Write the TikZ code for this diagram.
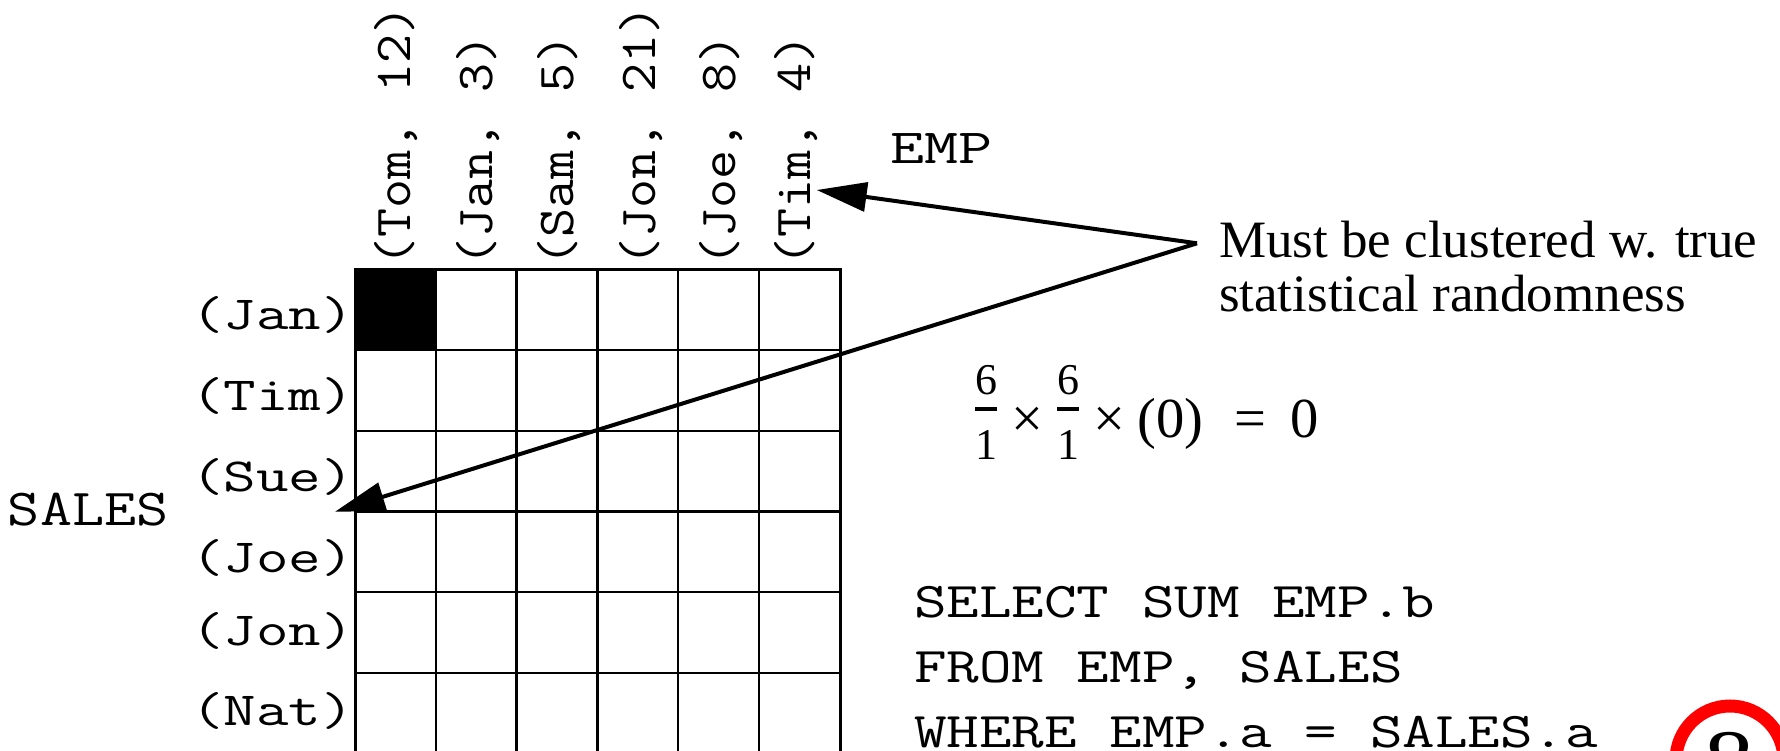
\RequirePackage{fix-cm}
\documentclass[tikz,border=0pt]{standalone}
\usepackage{amsmath}
\usepackage{graphicx}
\usepackage{fontspec}
\setmainfont{Liberation Serif}
\usetikzlibrary{arrows.meta}
\newcommand{\mono}[3]{\scalebox{#2}[1]{\fontsize{#1}{#1}\selectfont\ttfamily #3}}
\newcommand{\serif}[3]{\scalebox{#2}[1]{\fontsize{#1}{#1}\selectfont #3}}
\newcommand{\frc}[2]{\raisebox{14pt}{$\genfrac{}{}{4.3pt}{1}{\hbox{\fontsize{44}{44}\selectfont #1}\rule[-7.85pt]{0pt}{7.85pt}}{\rule{0pt}{44.5pt}\hbox{\fontsize{44}{44}\selectfont #2}}$}}
\begin{document}
\begin{tikzpicture}[x=1pt,y=-1pt,
  lab/.style={inner sep=0pt, outer sep=0pt},
  gridline/.style={line width=2.3pt, line cap=rect},
  pointer/.style={line width=4pt, -{Triangle[length=50pt,width=29pt]}}]
\useasboundingbox (0,0) rectangle (1780,751);
\clip (0,0) rectangle (1780,751);
% grid
\fill (355,269.3) rectangle (435.8,350);
\foreach \i in {0,...,6} \draw[gridline] ({355+80.8*\i},269.3) -- ({355+80.8*\i},770);
\foreach \j in {0,...,6} \draw[gridline] (355,{269.3+80.7*\j}) -- (840,{269.3+80.7*\j});
\draw[line width=3pt] (355,770) -- (355,269.3) -- (840,269.3) -- (840,770);
% row labels
\node[lab, anchor=base east] (r1) at (354,330) {\mono{47.5}{1.33}{(Jan)}};
\node[lab, anchor=base east] (r2) at (354,410) {\mono{47.5}{1.33}{(Tim)}};
\node[lab, anchor=base east] (r3) at (354,491) {\mono{47.5}{1.33}{(Sue)}};
\node[lab, anchor=base east] (r4) at (354,572) {\mono{47.5}{1.33}{(Joe)}};
\node[lab, anchor=base east] (r5) at (354,645) {\mono{47.5}{1.33}{(Jon)}};
\node[lab, anchor=base east] (r6) at (354,725) {\mono{47.5}{1.33}{(Nat)}};
% column labels
\node[lab, rotate=90, anchor=base west] (c1) at (410,267) {\mono{51.9}{1.085}{(Tom, 12)}};
\node[lab, rotate=90, anchor=base west] (c2) at (492,267) {\mono{51.9}{1.085}{(Jan, 3)}};
\node[lab, rotate=90, anchor=base west] (c3) at (573,267) {\mono{51.9}{1.085}{(Sam, 5)}};
\node[lab, rotate=90, anchor=base west] (c4) at (655,267) {\mono{51.9}{1.085}{(Jon, 21)}};
\node[lab, rotate=90, anchor=base west] (c5) at (735,267) {\mono{51.9}{1.085}{(Joe, 8)}};
\node[lab, rotate=90, anchor=base west] (c6) at (810,267) {\mono{51.9}{1.085}{(Tim, 4)}};
% table names
\node[lab, anchor=base west] (emp) at (890,163.3) {\mono{49}{1.35}{EMP}};
\node[lab, anchor=base west] (sales) at (8,525) {\mono{51.9}{1.2}{SALES}};
% note
\node[lab, anchor=base west] (note1) at (1219,257.7) {\serif{52.5}{1.01}{Must be clustered w. true}};
\node[lab, anchor=base west] (note2) at (1219,311.7) {\serif{52.5}{1.01}{statistical randomness}};
% equation
\node[lab, anchor=base west] (eq) at (973.8,437) {\fontsize{56.5}{56.5}\selectfont\frc{6}{1}\hspace{13pt}×\hspace{12.9pt}\frc{6}{1}\hspace{13pt}×\hspace{12.4pt}(0)\hspace{31.5pt}=\hspace{23.5pt}0};
% SQL
\node[lab, anchor=base west] (sql1) at (914,617) {\mono{50}{1.265}{SELECT SUM EMP.b}};
\node[lab, anchor=base west] (sql2) at (914,682) {\mono{50}{1.265}{FROM EMP, SALES}};
\node[lab, anchor=base west] (sql3) at (914,747) {\mono{50}{1.265}{WHERE EMP.a = SALES.a}};
% arrows
\coordinate (src) at (1197,243.3);
\coordinate (empTip) at (816.7,190);
\coordinate (salesTip) at (335,511.7);
\draw[pointer] (src) -- (empTip);
\draw[pointer] (src) -- (salesTip);
% page number badge
\draw[red, line width=13pt] (1730,760) circle[radius=54];
\node[lab] (eight) at (1729,760) {\serif{83}{1.2}{8}};
\end{tikzpicture}
\end{document}
